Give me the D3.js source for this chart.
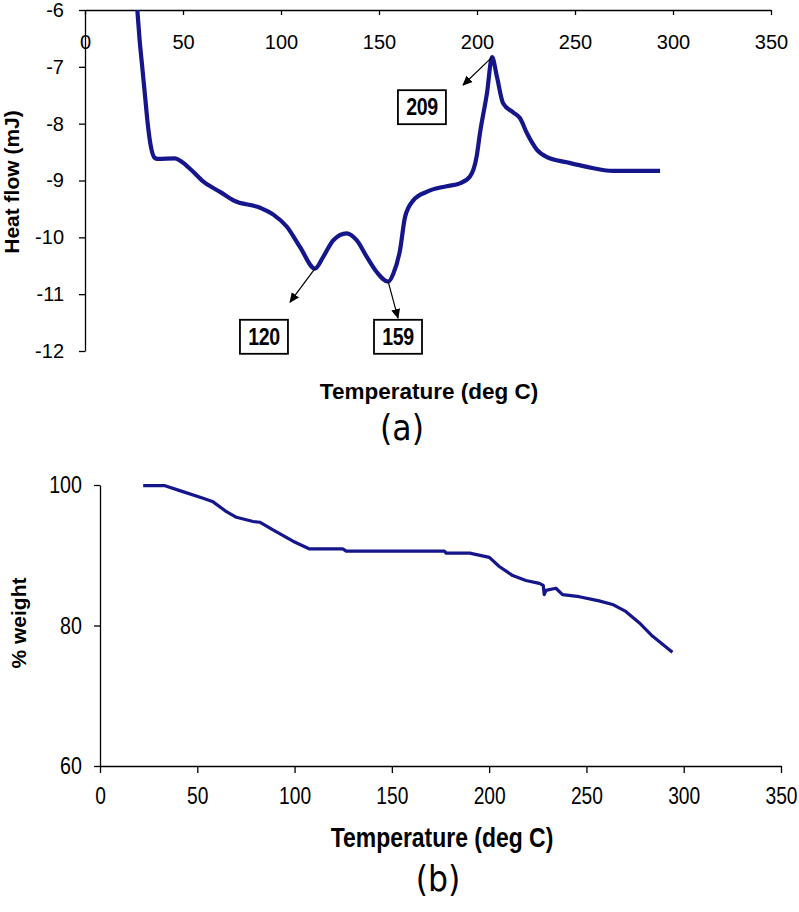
<!DOCTYPE html>
<html><head><meta charset="utf-8">
<script src="https://cdn.jsdelivr.net/npm/d3@7"></script>
<style>body{margin:0;background:#fff}svg{display:block}</style>
</head><body>
<script>
// ---- Data (a) DSC heat flow ----
const dscTemp = [26.7,27.8,29.2,30.6,32.0,33.6,35.5,37.0,45.9,49.3,54.4,60.4,68.9,75.7,89.3,96.1,102.9,109.7,117.3,121.6,126.7,133.5,138.6,143.7,148.8,154.7,157.3,160.7,163.3,167.5,174.3,184.5,191.3,196.4,199.8,201.5,205.1,207.7,210.2,213.3,218.4,221.9,225.5,230.6,235.7,245.9,256.1,269.4,293.4];
const dscFlow = [-6.0,-6.5,-7.0,-7.5,-8.0,-8.4,-8.6,-8.62,-8.61,-8.67,-8.82,-9.02,-9.20,-9.35,-9.48,-9.60,-9.81,-10.17,-10.55,-10.34,-10.05,-9.93,-10.05,-10.34,-10.61,-10.78,-10.64,-10.23,-9.64,-9.35,-9.20,-9.10,-9.05,-8.93,-8.58,-8.17,-7.46,-6.83,-7.18,-7.64,-7.80,-7.90,-8.17,-8.46,-8.59,-8.68,-8.76,-8.83,-8.83];
const peakLabels = ["120","159","209"];
const peakTemps = [117.3,154.7,207.7];
const peakFlows = [-10.55,-10.78,-6.83];
const arrowTemps = [104.6,159.7,192.9];
const arrowFlows = [-11.14,-11.42,-7.32];
const boxTemps = [91.3,159.7,171.9];
const boxFlows = [-11.75,-11.75,-7.71];
// ---- Data (b) TGA weight ----
const tgaTemp = [22.2,33.4,41.0,53.0,58.1,65.0,70.1,78.7,82.1,88.9,99.2,107.7,124.8,126.5,177.0,177.9,190.0,200.1,205.2,212.1,218.9,225.8,227.8,228.3,229.2,234.3,237.7,246.3,256.5,263.4,270.2,277.1,283.9,294.2];
const tgaWeight = [99.9,99.9,99.2,98.1,97.6,96.2,95.4,94.8,94.7,93.6,92.0,90.9,90.9,90.6,90.6,90.3,90.3,89.7,88.4,87.1,86.4,86.0,85.7,84.4,85.0,85.3,84.4,84.1,83.5,83.0,82.0,80.4,78.5,76.2];
const xTicks = [0,50,100,150,200,250,300,350];
const yTicksA = [-6,-7,-8,-9,-10,-11,-12];
const yTicksB = [60,80,100];

const W = 799, H = 912;
const svg = d3.select("body").append("svg").attr("width", W).attr("height", H);
const lineColor = "#15158c";
const sans = "'Liberation Sans', Arial, sans-serif";
const cond = "'DejaVu Sans Condensed', 'DejaVu Sans', sans-serif";

svg.append("defs").append("marker").attr("id","arr").attr("viewBox","0 0 10 10")
  .attr("refX",9).attr("refY",5).attr("markerWidth",10).attr("markerHeight",10)
  .attr("orient","auto").attr("markerUnits","userSpaceOnUse")
  .append("path").attr("d","M0,0.5 L10,5 L0,9.5 z").attr("fill","#000");
svg.select("defs").append("clipPath").attr("id","clipA").append("rect")
  .attr("x",85).attr("y",10).attr("width",700).attr("height",345);

function styleAxis(ax){
  ax.select(".domain").attr("stroke","#000").attr("stroke-width",1.3);
  ax.selectAll(".tick line").attr("stroke","#000").attr("stroke-width",1.3);
  ax.selectAll(".tick text").attr("fill","#000");
}

// ===== Chart (a) =====
const xA = d3.scaleLinear().domain([0,350]).range([85,771]);
const yA = d3.scaleLinear().domain([-12,-6]).range([351,10]);
const gA = svg.append("g");
const axXA = gA.append("g").attr("transform",`translate(0,${yA(-6)})`)
  .call(d3.axisBottom(xA).tickValues(xTicks).tickSize(5).tickPadding(20).tickSizeOuter(0));
styleAxis(axXA);
axXA.selectAll(".tick text").attr("font-family",sans).attr("font-size",20);
const axYA = gA.append("g").attr("transform",`translate(${xA(0)},0)`)
  .call(d3.axisLeft(yA).tickValues(yTicksA).tickFormat(d => String(d)).tickSize(6).tickPadding(15).tickSizeOuter(0));
styleAxis(axYA);
axYA.selectAll(".tick text").attr("font-family",sans).attr("font-size",20);

const dscData = dscTemp.map((t,i)=>[t,dscFlow[i]]);
gA.append("path").datum(dscData).attr("clip-path","url(#clipA)")
  .attr("d", d3.line().x(d=>xA(d[0])).y(d=>yA(d[1])).curve(d3.curveMonotoneX))
  .attr("fill","none").attr("stroke",lineColor).attr("stroke-width",4.2).attr("stroke-linejoin","round");

peakLabels.forEach((lab,i)=>{
  gA.append("line").attr("x1",xA(peakTemps[i])).attr("y1",yA(peakFlows[i]))
    .attr("x2",xA(arrowTemps[i])).attr("y2",yA(arrowFlows[i]))
    .attr("stroke","#000").attr("stroke-width",1.2).attr("marker-end","url(#arr)");
  const cx = xA(boxTemps[i]), cy = yA(boxFlows[i]);
  gA.append("rect").attr("x",cx-24).attr("y",cy-17).attr("width",48).attr("height",34)
    .attr("fill","#fff").attr("stroke","#000").attr("stroke-width",1.8);
  gA.append("text").attr("transform",`translate(${cx},${cy}) scale(0.85,1)`).attr("dy","0.36em")
    .attr("text-anchor","middle").attr("font-family",sans).attr("font-weight","bold")
    .attr("font-size",23).attr("letter-spacing",-0.5).text(lab);
});
gA.append("text").attr("x",429).attr("y",391).attr("dy","0.35em").attr("text-anchor","middle")
  .attr("font-family",sans).attr("font-weight","bold").attr("font-size",22.5).text("Temperature (deg C)");
gA.append("text").attr("transform","translate(12,182) rotate(-90)").attr("dy","0.35em")
  .attr("text-anchor","middle").attr("font-family",sans).attr("font-weight","bold")
  .attr("font-size",21).text("Heat flow (mJ)");
svg.append("text").attr("x",402).attr("y",428).attr("dy","0.35em").attr("text-anchor","middle")
  .attr("font-family",cond).attr("font-size",35).text("(a)");

// ===== Chart (b) =====
const xB = d3.scaleLinear().domain([0,350]).range([100,781]);
const yB = d3.scaleLinear().domain([60,100]).range([766,485]);
const gB = svg.append("g");
const axXB = gB.append("g").attr("transform",`translate(0,${yB(60)})`)
  .call(d3.axisBottom(xB).tickValues(xTicks).tickSize(7).tickPadding(14).tickSizeOuter(0));
styleAxis(axXB);
axXB.selectAll(".tick text").attr("font-family",sans).attr("font-size",24).attr("transform","scale(0.8,1)");
const axYB = gB.append("g").attr("transform",`translate(${xB(0)},0)`)
  .call(d3.axisLeft(yB).tickValues(yTicksB).tickSize(6).tickPadding(16).tickSizeOuter(0));
styleAxis(axYB);
axYB.selectAll(".tick text").attr("font-family",sans).attr("font-size",24).attr("transform","scale(0.82,1)");

const tgaData = tgaTemp.map((t,i)=>[t,tgaWeight[i]]);
gB.append("path").datum(tgaData)
  .attr("d", d3.line().x(d=>xB(d[0])).y(d=>yB(d[1])))
  .attr("fill","none").attr("stroke",lineColor).attr("stroke-width",3.2).attr("stroke-linejoin","round");

gB.append("text").attr("transform","translate(442,838) scale(0.85,1)").attr("dy","0.35em").attr("text-anchor","middle")
  .attr("font-family",sans).attr("font-weight","bold").attr("font-size",27).text("Temperature (deg C)");
gB.append("text").attr("transform","translate(19,623) rotate(-90)").attr("dy","0.35em")
  .attr("text-anchor","middle").attr("font-family",sans).attr("font-weight","bold")
  .attr("font-size",21).text("% weight");
svg.append("text").attr("x",438).attr("y",879).attr("dy","0.35em").attr("text-anchor","middle")
  .attr("font-family",cond).attr("font-size",35).text("(b)");
</script>
</body></html>
